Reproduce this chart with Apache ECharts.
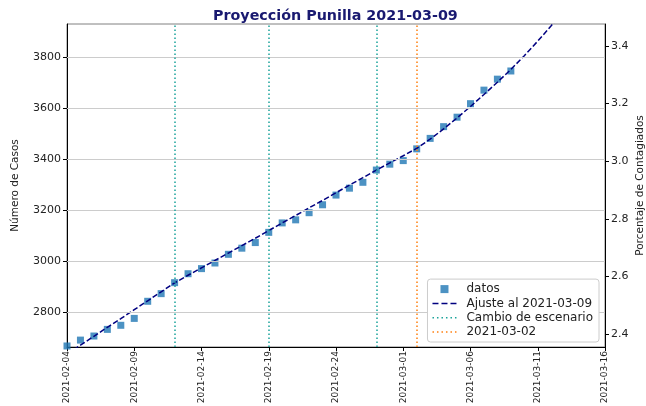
<!DOCTYPE html>
<html><head><meta charset="utf-8">
<script src="https://cdn.jsdelivr.net/npm/echarts@6/dist/echarts.min.js"></script>
<style>html,body{margin:0;padding:0;background:#fff}#c{width:646px;height:406px}</style>
</head><body><div id="c"></div>
<script>
const titleText = 'Proyección Punilla 2021-03-09';
const startDate = '2021-02-04';
const datosFechas = ['2021-02-04','2021-02-05','2021-02-06','2021-02-07','2021-02-08','2021-02-09','2021-02-10','2021-02-11','2021-02-12','2021-02-13','2021-02-14','2021-02-15','2021-02-16','2021-02-17','2021-02-18','2021-02-19','2021-02-20','2021-02-21','2021-02-22','2021-02-23','2021-02-24','2021-02-25','2021-02-26','2021-02-27','2021-02-28','2021-03-01','2021-03-02','2021-03-03','2021-03-04','2021-03-05','2021-03-06','2021-03-07','2021-03-08','2021-03-09'];
const datosCasos = [2668,2691,2707,2733,2749,2776,2843,2873,2916,2951,2971,2993,3027,3051,3073,3113,3150,3162,3190,3221,3259,3286,3309,3357,3380,3394,3440,3481,3527,3564,3617,3670,3713,3745];
const ajusteFechas = datosFechas.concat(['2021-03-10','2021-03-11','2021-03-12','2021-03-13']);
const ajusteCasos = [2636,2671,2706,2741,2775,2810,2845,2880,2915,2945,2974,3003,3032,3061,3090,3120,3150,3179,3209,3238,3268,3298,3327,3357,3385,3413,3442,3478,3518,3561,3606,3653,3701,3751,3805,3862,3922,3985];
const cambiosEscenario = ['2021-02-12','2021-02-19','2021-02-27'];
const fechaCorte = ['2021-03-02'];
const leftTicks = [2800,3000,3200,3400,3600,3800];
const rightTicks = [2.4,2.6,2.8,3.0,3.2,3.4];

const DAY = 86400000;
const t0 = Date.parse(startDate + 'T00:00:00Z');
const dayIdx = s => Math.round((Date.parse(s + 'T00:00:00Z') - t0) / DAY);
const idxToDate = i => new Date(t0 + i * DAY).toISOString().slice(0, 10);

const iconSquare = 'path://M0,0h7v7h-7z';
const iconDashed = 'path://M0,0h6v1.5h-6z M9,0h6v1.5h-6z M18,0h6v1.5h-6z';
const iconDotted = 'path://M0,0h1.5v1.5h-1.5z M4.5,0h1.5v1.5h-1.5z M9,0h1.5v1.5h-1.5z M13.5,0h1.5v1.5h-1.5z M18,0h1.5v1.5h-1.5z M22.5,0h1.5v1.5h-1.5z';

const font = 'DejaVu Sans';
const chart = echarts.init(document.getElementById('c'), null, {renderer: 'canvas'});
chart.setOption({
  animation: false,
  title: {text: titleText, left: 208, top: 4, textStyle: {fontFamily: font, fontSize: 14.3, fontWeight: 'bold', color: '#191970'}},
  grid: {left: 67, right: 41, top: 24, bottom: 59, show: true, borderColor: '#808080', borderWidth: 1, outerBoundsMode: 'none', containLabel: false},
  legend: {
    orient: 'vertical', right: 47, bottom: 64, z: 20, backgroundColor: '#fff', borderColor: '#cccccc', borderWidth: 1, borderRadius: 3,
    padding: [4, 6, 4, 5], itemWidth: 24, itemHeight: 8, itemGap: 2.3,
    textStyle: {fontFamily: font, fontSize: 12, color: '#222', padding: [0, 0, 0, 5]},
    data: [
      {name: 'datos', icon: iconSquare, itemStyle: {color: '#1f77b4'}},
      {name: 'Ajuste al 2021-03-09', icon: iconDashed, itemStyle: {color: '#000080'}},
      {name: 'Cambio de escenario', icon: iconDotted, itemStyle: {color: '#1aa39a'}},
      {name: '2021-03-02', icon: iconDotted, itemStyle: {color: '#ff7f0e'}}
    ]
  },
  xAxis: {
    type: 'value', min: 0, max: 40, interval: 5,
    axisLine: {lineStyle: {color: '#000'}},
    axisTick: {length: 4, lineStyle: {color: '#000'}},
    splitLine: {show: false},
    axisLabel: {rotate: 90, fontFamily: font, fontSize: 9, color: '#222', margin: 4, formatter: v => idxToDate(v)}
  },
  yAxis: [
    {
      type: 'value', min: 2664, max: 3929, position: 'left',
      name: 'Número de Casos', nameLocation: 'middle', nameGap: 46, nameRotate: 90,
      nameTextStyle: {fontFamily: font, fontSize: 10.5, color: '#222'},
      axisLine: {show: true, lineStyle: {color: '#000'}},
      axisTick: {show: true, length: 4, customValues: leftTicks, lineStyle: {color: '#000'}},
      axisLabel: {fontFamily: font, fontSize: 11, color: '#222', margin: 6, customValues: leftTicks, formatter: v => String(v)},
      splitLine: {show: false}
    },
    {
      type: 'value', min: 2.355, max: 3.476, position: 'right',
      name: 'Porcentaje de Contagiados', nameLocation: 'middle', nameGap: 30, nameRotate: 90, nameMoveOverlap: false,
      nameTextStyle: {fontFamily: font, fontSize: 10.5, color: '#222'},
      axisLine: {show: true, lineStyle: {color: '#000'}},
      axisTick: {show: true, length: 4, customValues: rightTicks, lineStyle: {color: '#000'}},
      axisLabel: {fontFamily: font, fontSize: 11, color: '#222', margin: 6, customValues: rightTicks, formatter: v => v.toFixed(1)},
      splitLine: {show: false}
    }
  ],
  series: [
    {
      name: 'grid', type: 'line', data: [], silent: true, legendHoverLink: false,
      markLine: {silent: true, symbol: 'none', label: {show: false}, lineStyle: {color: '#cccccc', type: 'solid', width: 1},
        data: leftTicks.map(v => ({yAxis: v}))}
    },
    {
      name: 'datos', type: 'scatter', symbol: 'rect', symbolSize: 7, z: 3,
      itemStyle: {color: '#1f77b4'},
      data: datosFechas.map((d, i) => [dayIdx(d), datosCasos[i]])
    },
    {
      name: 'Ajuste al 2021-03-09', type: 'line', symbol: 'none', z: 4, clip: true,
      lineStyle: {color: '#000080', width: 1.5, type: [5.5, 2.4]},
      itemStyle: {color: '#000080'},
      data: ajusteFechas.map((d, i) => [dayIdx(d), ajusteCasos[i]])
    },
    {
      name: 'Cambio de escenario', type: 'line', symbol: 'none', data: [],
      lineStyle: {color: '#1aa39a', width: 1.5, type: [1.5, 2.5]}, itemStyle: {color: '#1aa39a'},
      markLine: {silent: true, symbol: 'none', label: {show: false},
        lineStyle: {color: '#1aa39a', width: 1.5, type: [1.5, 2.5]},
        data: cambiosEscenario.map(d => ({xAxis: dayIdx(d)}))}
    },
    {
      name: '2021-03-02', type: 'line', symbol: 'none', data: [],
      lineStyle: {color: '#ff7f0e', width: 1.5, type: [1.5, 2.5]}, itemStyle: {color: '#ff7f0e'},
      markLine: {silent: true, symbol: 'none', label: {show: false},
        lineStyle: {color: '#ff7f0e', width: 1.5, type: [1.5, 2.5]},
        data: fechaCorte.map(d => ({xAxis: dayIdx(d)}))}
    }
  ]
});
</script></body></html>
